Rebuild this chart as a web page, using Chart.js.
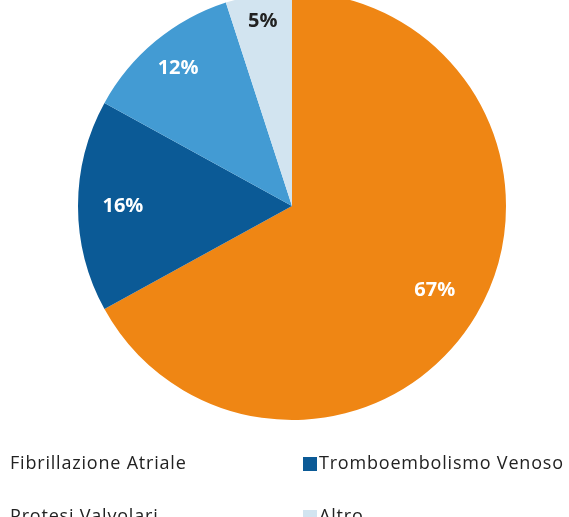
<!DOCTYPE html>
<html><head><meta charset="utf-8">
<script src="https://cdn.jsdelivr.net/npm/chart.js@4"></script>
<style>
html,body{margin:0;padding:0;background:#fff;overflow:hidden;width:569px;height:517px;}
#wrap{position:absolute;left:0;top:-8px;width:569px;height:525px;}
</style></head><body>
<div id="wrap"><canvas id="c"></canvas></div>
<script>
const categories = ["Fibrillazione Atriale","Tromboembolismo Venoso","Protesi Valvolari","Altro"];
const values = [67,16,12,5];
const valueLabels = ["67%","16%","12%","5%"];
const colors = ["#EF8614","#0B5A96","#439BD3","#D2E4F0"];

const labelPlugin = {
  id:'sliceLabels',
  afterDatasetsDraw(chart, args, opts){
    const ctx = chart.ctx;
    const meta = chart.getDatasetMeta(0);
    ctx.save();
    ctx.font = opts.font;
    ctx.textAlign='center'; ctx.textBaseline='middle';
    meta.data.forEach((arc,i)=>{
      const p = arc.getProps(['x','y','startAngle','endAngle','outerRadius'],true);
      const a = (p.startAngle+p.endAngle)/2;
      const r = p.outerRadius*opts.factors[i];
      ctx.fillStyle = opts.colors[i];
      ctx.fillText(valueLabels[i], p.x+Math.cos(a)*r, p.y+Math.sin(a)*r);
    });
    ctx.restore();
  }
};
const legendPlugin = {
  id:'gridLegend',
  afterDraw(chart, args, opts){
    const ctx = chart.ctx;
    ctx.save();
    ctx.font = opts.font;
    ctx.textBaseline='middle'; ctx.textAlign='left';
    if ('letterSpacing' in ctx) ctx.letterSpacing = opts.spacing;
    categories.forEach((lab,i)=>{
      const col = i%2, row = Math.floor(i/2);
      const x = opts.colX[col], y = opts.rowY[row];
      ctx.fillStyle = colors[i];
      ctx.fillRect(opts.boxX[col], y - opts.box/2, opts.box, opts.box);
      ctx.fillStyle = '#222';
      ctx.fillText(lab, x, y);
    });
    ctx.restore();
  }
};

new Chart(document.getElementById('c'),{
  type:'pie',
  data:{labels:categories,datasets:[{data:values,backgroundColor:colors,borderWidth:0}]},
  options:{
    responsive:true, maintainAspectRatio:false, animation:false,
    layout:{padding:{left:78,right:63,top:0,bottom:97}},
    plugins:{
      legend:{display:false}, tooltip:{enabled:false},
      sliceLabels:{font:'bold 20px "Open Sans"',factors:[0.775,0.79,0.835,0.875],colors:['#fff','#fff','#fff','#222']},
      gridLegend:{font:'18px "Open Sans"',spacing:'0.8px',colX:[10,319],boxX:[-30,303],rowY:[472,525],box:14}
    }
  },
  plugins:[labelPlugin,legendPlugin]
});
</script></body></html>
